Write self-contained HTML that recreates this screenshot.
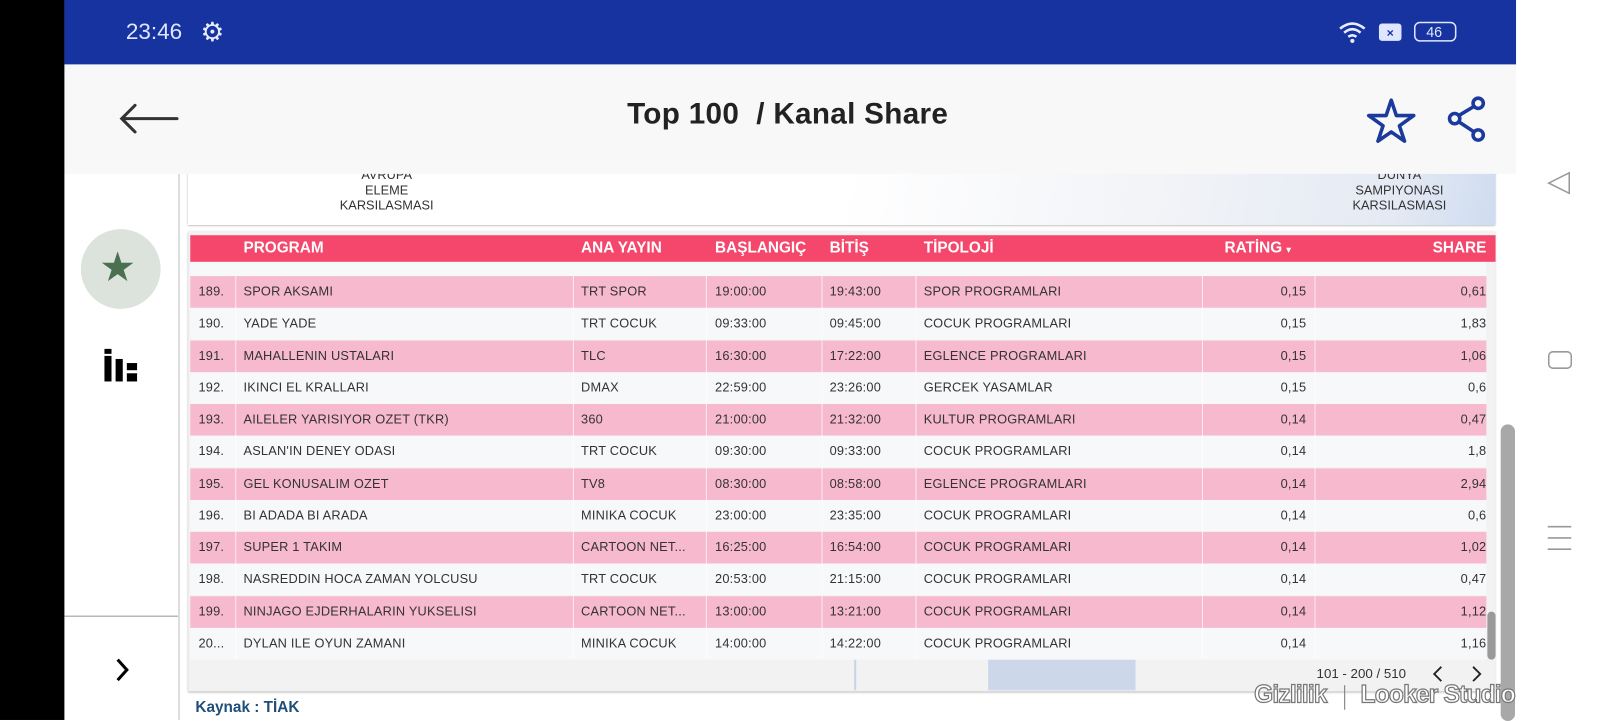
<!DOCTYPE html>
<html><head><meta charset="utf-8"><style>
html,body{margin:0;padding:0;width:1604px;height:720px;overflow:hidden;background:#fff}
#w{position:absolute;left:0;top:0;width:1568px;height:704px;transform:scale(1.02296,1.0227);transform-origin:0 0;font-family:"Liberation Sans",sans-serif}
.a{position:absolute}
.row{position:absolute;left:186px;width:1267px;height:31px;font-size:12.5px;color:#333;letter-spacing:.2px}
.row span{position:absolute;top:8px;white-space:nowrap}
.p{background:#f7b9ce}.wt{background:#f7f8fa}
.vl{position:absolute;top:0;width:1px;height:31px;background:rgba(255,255,255,.7)}
.h{position:absolute;top:4px;color:#fff;font-weight:bold;font-size:15px}
</style></head><body><div id="w">
<div class="a" style="left:0;top:0;width:63px;height:704px;background:#000"></div>
<div class="a" style="left:1482px;top:0;width:86px;height:704px;background:#fff"></div>
<svg class="a" style="left:1508px;top:165px" width="34" height="380"><path d="M26 4 L6 14 L26 24 Z" fill="none" stroke="#999" stroke-width="1.5"/><rect x="6" y="179" width="22" height="16" rx="4" fill="none" stroke="#999" stroke-width="1.5"/><path d="M5 350 H28 M5 361 H28 M5 372 H28" stroke="#999" stroke-width="1.5"/></svg>
<div class="a" style="left:63px;top:170px;width:111px;height:534px;background:#fff;border-right:2px solid #ddd"></div>
<div class="a" style="left:79px;top:224px;width:78px;height:78px;border-radius:50%;background:#dce2dc"></div>
<div class="a" style="left:97px;top:239px;font-size:40px;color:#4a7050;line-height:46px">★</div>
<svg class="a" style="left:102px;top:341px" width="34" height="32"><rect x="0" y="0" width="7" height="32" fill="#000"/><rect x="11" y="10" width="7" height="22" fill="#000"/><rect x="22" y="14" width="10" height="7" fill="#000"/><rect x="22" y="24" width="10" height="8" fill="#000"/><rect x="0" y="5" width="7" height="2" fill="#fff"/></svg>
<div class="a" style="left:63px;top:602px;width:111px;height:1px;background:#999"></div>
<svg class="a" style="left:112px;top:643px" width="16" height="24"><path d="M3 2 L12 12 L3 22" stroke="#000" stroke-width="3" fill="none"/></svg>
<div class="a" style="left:184px;top:160px;width:1278px;height:60px;background:linear-gradient(100deg,#fff 0%,#fff 50%,#f1f3f7 75%,#e4eaf4 92%,#cfdcf0 100%);box-shadow:0 1px 2px #aaa"></div>
<div class="a" style="left:300px;top:164px;width:156px;text-align:center;font-size:12.5px;line-height:15px;color:#333">AVRUPA<br>ELEME<br>KARSILASMASI</div>
<div class="a" style="left:1290px;top:164px;width:156px;text-align:center;font-size:12.5px;line-height:15px;color:#333">DUNYA<br>SAMPIYONASI<br>KARSILASMASI</div>
<div class="a" style="left:63px;top:0;width:1419px;height:63px;background:#1733a0"></div>
<div class="a" style="left:123px;top:18px;color:#dfe6ff;font-size:22px">23:46</div>
<div class="a" style="left:196px;top:16px;color:#e8eeff;font-size:26px">⚙</div>
<svg class="a" style="left:1308px;top:18px" width="120" height="26"><path d="M2 10 Q14 0 26 10 M6 14 Q14 7 22 14 M10 18 Q14 15 18 18" stroke="#e8eeff" stroke-width="2.5" fill="none"/><circle cx="14" cy="22" r="2" fill="#e8eeff"/><rect x="40" y="5" width="22" height="17" rx="3" fill="#dfe6ff"/><text x="51" y="18" font-size="12" fill="#1733a0" text-anchor="middle" font-weight="bold">×</text><rect x="75" y="4" width="40" height="18" rx="5" fill="none" stroke="#dfe6ff" stroke-width="1.5"/><text x="94" y="18" font-size="14" fill="#dfe6ff" text-anchor="middle">46</text></svg>
<div class="a" style="left:63px;top:63px;width:1419px;height:107px;background:#f8f8f9"></div>
<svg class="a" style="left:115px;top:98px" width="62" height="36"><path d="M58 18 H5 M17 5 L4 18 L17 31" stroke="#333" stroke-width="3" fill="none" stroke-linecap="round"/></svg>
<div class="a" style="left:613px;top:96px;font-size:29px;font-weight:bold;color:#222;letter-spacing:.3px">Top 100&nbsp; / Kanal Share</div>
<svg class="a" style="left:1333px;top:93px" width="130" height="50"><path d="M27 5 L32 20 L49 20 L35 30 L40 45 L27 36 L14 45 L19 30 L5 20 L22 20 Z" fill="none" stroke="#1a3a9c" stroke-width="3.5" stroke-linejoin="round"/><circle cx="112" cy="8" r="5" fill="none" stroke="#1a3a9c" stroke-width="3.5"/><circle cx="112" cy="39" r="5" fill="none" stroke="#1a3a9c" stroke-width="3.5"/><circle cx="89" cy="23" r="5" fill="none" stroke="#1a3a9c" stroke-width="3.5"/><path d="M93 20 L108 11 M93 26 L108 36" stroke="#1a3a9c" stroke-width="3.5"/></svg>
<div class="a" style="left:184px;top:226px;width:1278px;height:450px;background:#f2f2f3;box-shadow:0 1px 2px #bbb"></div>
<div class="a" style="left:835px;top:645px;width:2px;height:30px;background:#c8d3ea"></div>
<div class="a" style="left:966px;top:645px;width:144px;height:30px;background:#cdd7ea"></div>
<div class="a" style="left:186px;top:256px;width:1267px;height:14px;background:#f7f8fa"></div>
<div id="rows"></div>
<div class="a" style="left:186px;top:230px;width:1276px;height:26px;background:#f4476b">
<span class="h" style="left:52px">PROGRAM</span><span class="h" style="left:382px">ANA YAYIN</span><span class="h" style="left:513px">BAŞLANGIÇ</span><span class="h" style="left:625px">BİTİŞ</span><span class="h" style="left:717px">TİPOLOJİ</span><span class="h" style="left:1011px">RATİNG <span style="font-size:9px">▾</span></span><span class="h" style="right:9px">SHARE</span></div>
<div class="a" style="left:1454px;top:598px;width:8px;height:47px;border-radius:4px;background:#9a9a9a"></div>
<div class="a" style="left:1467px;top:415px;width:14px;height:290px;border-radius:7px;background:#a8a8a8"></div>
<div class="a" style="left:1287px;top:651px;font-size:13px;color:#333">101 - 200 / 510</div>
<svg class="a" style="left:1398px;top:650px" width="52" height="18"><path d="M11 2 L4 9 L11 16 M42 2 L49 9 L42 16" stroke="#222" stroke-width="1.8" fill="none"/></svg>
<div class="a" style="left:1226px;top:666px;font-size:24px;font-weight:bold;color:#fff;-webkit-text-stroke:1.2px #777;letter-spacing:-.8px">Gizlilik</div>
<div class="a" style="left:1314px;top:670px;width:1px;height:24px;background:#777"></div>
<div class="a" style="left:1330px;top:666px;font-size:24px;font-weight:bold;color:#fff;-webkit-text-stroke:1.2px #777;letter-spacing:-.8px;white-space:nowrap">Looker Studio</div>
<div class="a" style="left:191px;top:683px;font-size:15px;font-weight:bold;color:#1f4e7a">Kaynak : TİAK</div>
<script>
var d=[["189.","SPOR AKSAMI","TRT SPOR","19:00:00","19:43:00","SPOR PROGRAMLARI","0,15","0,61"],
["190.","YADE YADE","TRT COCUK","09:33:00","09:45:00","COCUK PROGRAMLARI","0,15","1,83"],
["191.","MAHALLENIN USTALARI","TLC","16:30:00","17:22:00","EGLENCE PROGRAMLARI","0,15","1,06"],
["192.","IKINCI EL KRALLARI","DMAX","22:59:00","23:26:00","GERCEK YASAMLAR","0,15","0,6"],
["193.","AILELER YARISIYOR OZET (TKR)","360","21:00:00","21:32:00","KULTUR PROGRAMLARI","0,14","0,47"],
["194.","ASLAN'IN DENEY ODASI","TRT COCUK","09:30:00","09:33:00","COCUK PROGRAMLARI","0,14","1,8"],
["195.","GEL KONUSALIM OZET","TV8","08:30:00","08:58:00","EGLENCE PROGRAMLARI","0,14","2,94"],
["196.","BI ADADA BI ARADA","MINIKA COCUK","23:00:00","23:35:00","COCUK PROGRAMLARI","0,14","0,6"],
["197.","SUPER 1 TAKIM","CARTOON NET...","16:25:00","16:54:00","COCUK PROGRAMLARI","0,14","1,02"],
["198.","NASREDDIN HOCA ZAMAN YOLCUSU","TRT COCUK","20:53:00","21:15:00","COCUK PROGRAMLARI","0,14","0,47"],
["199.","NINJAGO EJDERHALARIN YUKSELISI","CARTOON NET...","13:00:00","13:21:00","COCUK PROGRAMLARI","0,14","1,12"],
["20...","DYLAN ILE OYUN ZAMANI","MINIKA COCUK","14:00:00","14:22:00","COCUK PROGRAMLARI","0,14","1,16"]];
var h="";
d.forEach(function(r,i){var t=270+i*31.25;
h+='<div class="row '+(i%2?'wt':'p')+'" style="top:'+t+'px">'+
'<span style="left:8px">'+r[0]+'</span><span style="left:52px">'+r[1]+'</span><span style="left:382px">'+r[2]+'</span><span style="left:513px">'+r[3]+'</span><span style="left:625px">'+r[4]+'</span><span style="left:717px">'+r[5]+'</span><span style="right:176px">'+r[6]+'</span><span style="right:0px">'+r[7]+'</span>'+
'<div class="vl" style="left:44px"></div><div class="vl" style="left:374px"></div><div class="vl" style="left:504px"></div><div class="vl" style="left:617px"></div><div class="vl" style="left:709px"></div><div class="vl" style="left:989px"></div><div class="vl" style="left:1099px"></div></div>';});
document.getElementById("rows").outerHTML=h;
</script>
</div></body></html>
